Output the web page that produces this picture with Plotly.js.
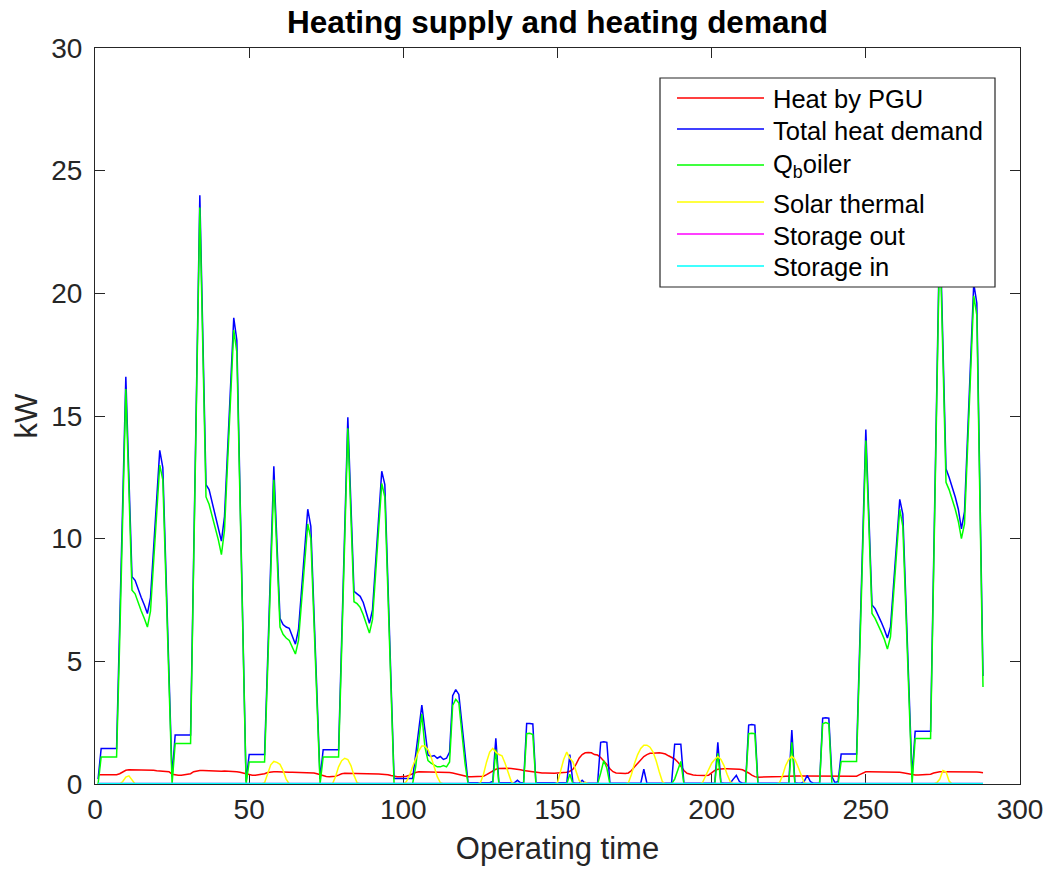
<!DOCTYPE html>
<html>
<head>
<meta charset="utf-8">
<script src="https://cdn.plot.ly/plotly-3.0.1.min.js"></script>
<style>
  html, body { margin: 0; padding: 0; background: #ffffff; }
  #chart { width: 1050px; height: 869px; }
</style>
</head>
<body>
<div id="chart"></div>
<script>
// Hourly values (kW) for 12 representative days, 24 hours each, hours 1..288.

const seriesNames = ['Heat by PGU', 'Total heat demand', 'Q<sub>b</sub>oiler',
                     'Solar thermal', 'Storage out', 'Storage in'];

const heatPGU = [
  0.38,0.38,0.38,0.38,0.38,0.38,0.38,0.42,0.5,0.56,0.58,0.58,0.57,0.56,0.56,0.55,0.55,0.56,0.56,0.54,0.53,0.52,0.52,0.5,
  0.4,0.37,0.36,0.36,0.37,0.38,0.42,0.5,0.54,0.55,0.55,0.54,0.54,0.53,0.53,0.52,0.52,0.53,0.53,0.52,0.52,0.5,0.48,0.45,
  0.4,0.38,0.36,0.36,0.37,0.38,0.42,0.47,0.5,0.5,0.5,0.49,0.49,0.48,0.48,0.48,0.48,0.48,0.48,0.47,0.47,0.46,0.45,0.42,
  0.38,0.33,0.31,0.3,0.3,0.32,0.36,0.42,0.44,0.44,0.43,0.42,0.42,0.42,0.42,0.42,0.41,0.41,0.41,0.41,0.4,0.4,0.38,0.35,
  0.32,0.3,0.3,0.3,0.32,0.36,0.42,0.47,0.5,0.5,0.5,0.49,0.48,0.48,0.48,0.48,0.48,0.48,0.47,0.45,0.42,0.38,0.34,0.31,
  0.3,0.3,0.3,0.3,0.3,0.32,0.38,0.46,0.54,0.6,0.63,0.64,0.64,0.64,0.63,0.62,0.6,0.58,0.55,0.53,0.5,0.48,0.47,0.46,
  0.45,0.45,0.44,0.44,0.44,0.45,0.45,0.46,0.48,0.52,0.6,0.8,1.05,1.2,1.27,1.28,1.27,1.2,1.18,1.08,0.95,0.8,0.62,0.5,
  0.45,0.44,0.43,0.43,0.45,0.55,0.7,0.85,1.0,1.12,1.2,1.25,1.25,1.27,1.27,1.25,1.22,1.15,1.1,1.02,0.9,0.72,0.55,0.44,
  0.4,0.37,0.36,0.35,0.35,0.35,0.36,0.45,0.55,0.6,0.62,0.62,0.62,0.62,0.62,0.61,0.6,0.58,0.52,0.45,0.36,0.3,0.28,0.28,
  0.28,0.28,0.28,0.29,0.3,0.3,0.31,0.32,0.33,0.33,0.33,0.33,0.33,0.33,0.33,0.33,0.33,0.33,0.33,0.33,0.32,0.32,0.31,0.3,
  0.3,0.3,0.3,0.3,0.3,0.3,0.32,0.38,0.45,0.5,0.5,0.5,0.5,0.5,0.5,0.5,0.5,0.5,0.5,0.49,0.48,0.46,0.43,0.4,
  0.38,0.37,0.37,0.37,0.37,0.38,0.4,0.45,0.48,0.5,0.5,0.5,0.5,0.51,0.52,0.52,0.52,0.52,0.51,0.5,0.5,0.49,0.48,0.46
];

const totalDemand = [
  0.2,1.45,1.45,1.45,1.45,1.45,1.45,6.5,11.5,16.6,12.5,8.45,8.3,7.9,7.6,7.3,6.95,7.6,9.6,11.6,13.6,12.9,8.7,4.5,
  0.3,2.0,2.0,2.0,2.0,2.0,2.0,9.3,16.6,24.0,18.1,12.2,12.0,11.5,11.0,10.5,9.9,10.9,13.6,16.3,19.0,18.1,12.1,6.0,
  0.1,1.2,1.2,1.2,1.2,1.2,1.2,5.1,9.0,12.95,9.85,6.75,6.5,6.4,6.35,6.0,5.7,6.3,7.9,9.6,11.2,10.5,7.1,3.6,
  0.2,1.4,1.4,1.4,1.4,1.4,1.4,5.9,10.4,14.95,11.4,7.85,7.75,7.65,7.4,6.95,6.55,7.1,9.0,10.9,12.75,12.2,8.2,4.2,
  0.22,0.22,0.22,0.22,0.22,0.22,0.22,1.2,2.2,3.22,2.2,1.18,1.12,1.16,1.05,1.12,1.0,1.05,1.3,3.6,3.85,3.65,2.45,1.25,
  0.05,0.05,0.05,0.05,0.05,0.05,0.05,0.05,0.1,1.86,0.05,0.05,0.05,0.05,0.05,0.05,0.15,0.05,0.05,2.47,2.47,2.45,0.05,0.05,
  0.03,0.03,0.03,0.03,0.03,0.03,0.03,0.03,0.05,1.2,0.05,0.03,0.03,0.15,0.03,0.03,0.03,0.03,0.03,1.7,1.72,1.7,0.03,0.03,
  0.03,0.03,0.03,0.03,0.03,0.03,0.03,0.03,0.03,0.6,0.03,0.03,0.03,0.03,0.03,0.03,0.03,0.03,0.03,1.62,1.63,1.62,0.03,0.03,
  0.03,0.03,0.03,0.03,0.03,0.03,0.03,0.03,0.03,1.7,0.05,0.03,0.03,0.03,0.2,0.35,0.1,0.03,0.03,2.4,2.42,2.4,0.03,0.03,
  0.03,0.03,0.03,0.03,0.03,0.03,0.03,0.03,0.03,2.2,0.05,0.03,0.03,0.1,0.35,0.1,0.03,0.03,0.03,2.68,2.7,2.68,0.3,0.05,
  0.1,1.22,1.22,1.22,1.22,1.22,1.22,5.6,10.0,14.45,10.9,7.3,7.15,6.9,6.6,6.3,5.95,6.4,8.1,9.9,11.6,11.0,7.4,3.85,
  0.3,2.15,2.15,2.15,2.15,2.15,2.15,9.1,16.0,23.0,17.9,12.85,12.5,12.1,11.7,11.2,10.4,11.1,14.2,17.3,20.4,19.6,11.8,4.4
];

const boilerHeat = [
  0,1.1,1.1,1.1,1.1,1.1,1.1,5.8,11.0,16.1,12.0,7.9,7.75,7.35,7.05,6.75,6.4,7.05,9.1,11.1,13.0,12.4,8.2,4.0,
  0,1.65,1.65,1.65,1.65,1.65,1.65,9.0,16.3,23.5,17.6,11.7,11.4,10.95,10.5,9.95,9.35,10.35,13.1,15.8,18.5,17.6,11.6,5.5,
  0,0.9,0.9,0.9,0.9,0.9,0.9,4.7,8.5,12.4,9.4,6.4,6.1,5.95,5.85,5.55,5.3,5.85,7.4,9.0,10.6,10.0,6.7,3.3,
  0,1.1,1.1,1.1,1.1,1.1,1.1,5.5,9.9,14.5,10.9,7.43,7.35,7.2,6.9,6.5,6.15,6.7,8.6,10.4,12.25,11.7,7.8,3.8,
  0,0,0,0,0,0,0,0.7,1.8,2.85,1.5,0.95,0.85,0.77,0.7,0.7,0.75,0.7,0.9,3.2,3.45,3.3,2.05,0.85,
  0,0,0,0,0,0,0,0,0,1.4,0,0,0,0,0,0,0,0,0,2.05,2.07,2.02,0,0,
  0,0,0,0,0,0,0,0,0,0.4,0,0,0,0,0,0,0,0,0,0.45,0.95,0.65,0,0,
  0,0,0,0,0,0,0,0,0,0,0,0,0,0,0,0,0,0,0,0.2,0.55,0.92,0,0,
  0,0,0,0,0,0,0,0,0,1.25,0,0,0,0,0,0,0,0,0,2.05,2.07,2.05,0,0,
  0,0,0,0,0,0,0,0,0,1.7,0,0,0,0,0,0,0,0,0,2.45,2.5,2.45,0,0,
  0,0.92,0.92,0.92,0.92,0.92,0.92,5.2,9.6,14.0,10.5,6.95,6.75,6.5,6.2,5.9,5.5,6.0,7.7,9.5,11.2,10.5,7.0,3.4,
  0,1.85,1.85,1.85,1.85,1.85,1.85,8.7,15.6,22.5,17.4,12.3,12.0,11.6,11.2,10.7,10.0,10.6,13.7,16.8,19.9,19.1,11.4,3.95
];

const solarThermal = [
  0,0,0,0,0,0,0,0,0.1,0.28,0.33,0.15,0,0,0,0,0,0,0,0,0,0,0,0,
  0,0,0,0,0,0,0,0,0,0,0,0,0,0,0,0,0,0,0,0,0,0,0,0,
  0,0,0,0,0,0,0.05,0.45,0.78,0.92,0.88,0.8,0.55,0.2,0,0,0,0,0,0,0,0,0,0,
  0,0,0,0,0,0.3,0.7,0.95,1.05,1.0,0.75,0.35,0.05,0,0,0,0,0,0,0,0,0,0,0,
  0,0,0,0,0.1,0.35,0.7,1.05,1.35,1.55,1.55,1.4,1.1,0.7,0.3,0.05,0,0,0,0,0,0,0,0,
  0,0,0,0,0.05,0.4,0.9,1.3,1.45,1.3,1.2,1.15,0.85,0.45,0.1,0,0,0,0,0,0,0,0,0,
  0,0,0,0,0,0.05,0.5,1.0,1.3,1.05,0.9,0.55,0.15,0,0.08,0,0,0,0,0,0,0,0,0,
  0,0,0,0,0.05,0.4,0.85,1.2,1.45,1.58,1.58,1.5,1.3,0.95,0.5,0.1,0,0,0,0,0,0,0,0,
  0,0,0,0,0.05,0.3,0.6,0.85,1.0,1.12,1.0,0.75,0.4,0.1,0,0,0,0,0,0,0,0,0,0,
  0,0,0,0,0,0.05,0.35,0.75,1.0,1.13,1.0,0.7,0.35,0.05,0,0,0,0,0,0,0,0,0,0,
  0,0,0,0,0,0,0,0,0,0,0,0,0,0,0,0,0,0,0,0,0,0,0,0,
  0,0,0,0,0,0,0,0,0.05,0.2,0.55,0.5,0.12,0,0,0,0,0,0,0,0,0,0,0
];

const storageOut = [
  0,0,0,0,0,0,0,0,0,0,0,0,0,0,0,0,0,0,0,0,0,0,0,0,
  0,0,0,0,0,0,0,0,0,0,0,0,0,0,0,0,0,0,0,0,0,0,0,0,
  0,0,0,0,0,0,0,0,0,0,0,0,0,0,0,0,0,0,0,0,0,0,0,0,
  0,0,0,0,0,0,0,0,0,0,0,0,0,0,0,0,0,0,0,0,0,0,0,0,
  0,0,0,0,0,0,0,0,0,0,0,0,0,0,0,0,0,0,0,0,0,0,0,0,
  0,0,0,0,0,0,0,0,0,0,0,0,0,0,0,0,0,0,0,0,0,0,0,0,
  0,0,0,0,0,0,0,0,0,0,0,0,0,0,0,0,0,0,0,0,0,0,0,0,
  0,0,0,0,0,0,0,0,0,0,0,0,0,0,0,0,0,0,0,0,0,0,0,0,
  0,0,0,0,0,0,0,0,0,0,0,0,0,0,0,0,0,0,0,0,0,0,0,0,
  0,0,0,0,0,0,0,0,0,0,0,0,0,0,0,0,0,0,0,0,0,0,0,0,
  0,0,0,0,0,0,0,0,0,0,0,0,0,0,0,0,0,0,0,0,0,0,0,0,
  0,0,0,0,0,0,0,0,0,0,0,0,0,0,0,0,0,0,0,0,0,0,0,0
];

const storageIn = [
  0,0,0,0,0,0,0,0,0,0,0,0,0,0,0,0,0,0,0,0,0,0,0,0,
  0,0,0,0,0,0,0,0,0,0,0,0,0,0,0,0,0,0,0,0,0,0,0,0,
  0,0,0,0,0,0,0,0,0,0,0,0,0,0,0,0,0,0,0,0,0,0,0,0,
  0,0,0,0,0,0,0,0,0,0,0,0,0,0,0,0,0,0,0,0,0,0,0,0,
  0,0,0,0,0,0,0,0,0,0,0,0,0,0,0,0,0,0,0,0,0,0,0,0,
  0,0,0,0,0,0,0,0,0,0,0,0,0,0,0,0,0,0,0,0,0,0,0,0,
  0,0,0,0,0,0,0,0,0,0,0,0,0,0,0,0,0,0,0,0,0,0,0,0,
  0,0,0,0,0,0,0,0,0,0,0,0,0,0,0,0,0,0,0,0,0,0,0,0,
  0,0,0,0,0,0,0,0,0,0,0,0,0,0,0,0,0,0,0,0,0,0,0,0,
  0,0,0,0,0,0,0,0,0,0,0,0,0,0,0,0,0,0,0,0,0,0,0,0,
  0,0,0,0,0,0,0,0,0,0,0,0,0,0,0,0,0,0,0,0,0,0,0,0,
  0,0,0,0,0,0,0,0,0,0,0,0,0,0,0,0,0,0,0,0,0,0,0,0
];

const xTicks = [0, 50, 100, 150, 200, 250, 300];
const yTicks = [0, 5, 10, 15, 20, 25, 30];

const seriesValues = [heatPGU, totalDemand, boilerHeat, solarThermal, storageOut, storageIn];
const seriesColors = ['#ff0000', '#0000ff', '#00ff00', '#ffff00', '#ff00ff', '#00ffff'];
// The two storage curves sit on the x axis, where half of the stroke is clipped.
const seriesWidths = [1.5, 1.5, 1.5, 1.5, 2.5, 2.5];

const FONT = '"Liberation Sans", Arial, Helvetica, sans-serif';
const INK = '#262626';

const traces = seriesValues.map((vals, i) => ({
  type: 'scatter',
  mode: 'lines',
  name: seriesNames[i],
  y: vals,
  x0: 1,
  dx: 1,
  line: { color: seriesColors[i], width: seriesWidths[i] },
  hoverinfo: 'x+y+name'
}));

// Boxed legend in the upper right, drawn over the curves with a white face.
const plotL = 95, plotR = 1020, plotT = 48, plotB = 784;
const px2paperX = px => (px - plotL) / (plotR - plotL);
const px2paperY = py => (plotB - py) / (plotB - plotT);

const legendBox = { left: 660, right: 995, top: 78, bottom: 287 };
const legendRowsLine = [98, 129, 165, 202, 234, 266];
const legendRowsText = [99, 131, 166, 204, 236, 267];
const sampleX0 = 677, sampleX1 = 764, textX = 771;

const shapes = [{
  type: 'rect', xref: 'paper', yref: 'paper', layer: 'above',
  x0: px2paperX(legendBox.left), x1: px2paperX(legendBox.right),
  y0: px2paperY(legendBox.bottom), y1: px2paperY(legendBox.top),
  fillcolor: '#ffffff', line: { color: INK, width: 1.2 }
}];
const annotations = [];
seriesNames.forEach((name, i) => {
  shapes.push({
    type: 'line', xref: 'paper', yref: 'paper', layer: 'above',
    x0: px2paperX(sampleX0), x1: px2paperX(sampleX1),
    y0: px2paperY(legendRowsLine[i]), y1: px2paperY(legendRowsLine[i]),
    line: { color: seriesColors[i], width: 1.5 }
  });
  annotations.push({
    xref: 'paper', yref: 'paper',
    x: px2paperX(textX), y: px2paperY(legendRowsText[i]),
    xanchor: 'left', yanchor: 'middle',
    text: name, showarrow: false,
    font: { family: FONT, size: 25.5, color: '#000000' }
  });
});

const axisCommon = {
  showgrid: false,
  zeroline: false,
  showline: true,
  linecolor: INK,
  linewidth: 1,
  mirror: 'ticks',
  ticks: 'inside',
  ticklen: 10,
  tickwidth: 1,
  tickcolor: INK,
  tickfont: { family: FONT, size: 28, color: INK },
  layer: 'below traces',
  fixedrange: true
};

const layout = {
  width: 1050,
  height: 869,
  margin: { l: plotL, r: 1050 - plotR, t: plotT, b: 869 - plotB, pad: 0 },
  paper_bgcolor: '#ffffff',
  plot_bgcolor: '#ffffff',
  showlegend: false,
  title: {
    text: '<b>Heating supply and heating demand</b>',
    font: { family: FONT, size: 31.5, color: '#000000' },
    xref: 'paper', x: 0.5, xanchor: 'center',
    yref: 'container', y: 1 - 22 / 869, yanchor: 'middle'
  },
  xaxis: Object.assign({}, axisCommon, {
    range: [0, 300],
    tickmode: 'array',
    tickvals: xTicks,
    ticktext: xTicks.map(String),
    title: { text: 'Operating time', font: { family: FONT, size: 31, color: INK }, standoff: 13 }
  }),
  yaxis: Object.assign({}, axisCommon, {
    range: [0, 30],
    tickmode: 'array',
    tickvals: yTicks,
    ticktext: yTicks.map(String),
    ticklabelstandoff: 6,
    title: { text: 'kW', font: { family: FONT, size: 31, color: INK }, standoff: 4 }
  }),
  shapes: shapes,
  annotations: annotations
};

Plotly.newPlot('chart', traces, layout, { displayModeBar: false, staticPlot: false, responsive: false });
</script>
</body>
</html>
